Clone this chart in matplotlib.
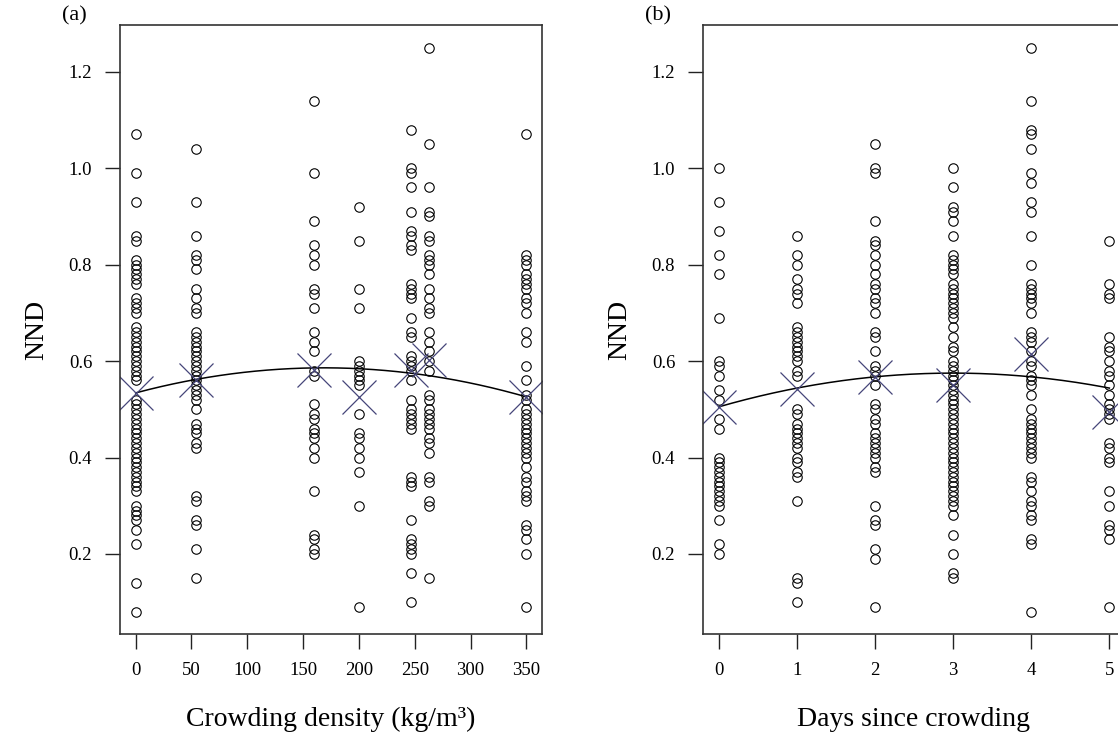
import numpy as np
import matplotlib
matplotlib.use("Agg")
import matplotlib.pyplot as plt

plt.rcParams['font.family'] = ['Liberation Serif', 'DejaVu Serif']

# ---- (a) NND by crowding density ----
density_levels = [0, 54, 160, 200, 247, 263, 350]
nnd_density = {
    0: [1.07, 0.99, 0.93, 0.86, 0.85, 0.81, 0.80, 0.79, 0.78, 0.77, 0.76, 0.73,
        0.72, 0.71, 0.70, 0.67, 0.66, 0.65, 0.64, 0.63, 0.62, 0.61, 0.60, 0.59,
        0.58, 0.57, 0.56, 0.52, 0.51, 0.50, 0.49, 0.48, 0.47, 0.46, 0.45, 0.44,
        0.43, 0.42, 0.41, 0.40, 0.39, 0.38, 0.37, 0.36, 0.35, 0.34, 0.33, 0.30,
        0.29, 0.28, 0.27, 0.25, 0.22, 0.14, 0.08],
    54: [1.04, 0.93, 0.86, 0.82, 0.81, 0.79, 0.75, 0.73, 0.71, 0.70, 0.66, 0.65,
         0.64, 0.63, 0.62, 0.61, 0.60, 0.59, 0.58, 0.57, 0.56, 0.55, 0.54, 0.53,
         0.52, 0.50, 0.47, 0.46, 0.45, 0.43, 0.42, 0.32, 0.31, 0.27, 0.26, 0.21,
         0.15],
    160: [1.14, 0.99, 0.89, 0.84, 0.82, 0.80, 0.75, 0.74, 0.71, 0.66, 0.64, 0.62,
          0.58, 0.57, 0.51, 0.49, 0.48, 0.46, 0.45, 0.44, 0.42, 0.40, 0.33, 0.24,
          0.23, 0.21, 0.20],
    200: [0.92, 0.85, 0.75, 0.71, 0.60, 0.59, 0.58, 0.57, 0.56, 0.55, 0.49, 0.45,
          0.44, 0.42, 0.40, 0.37, 0.30, 0.09],
    247: [1.08, 1.00, 0.99, 0.96, 0.91, 0.87, 0.86, 0.84, 0.83, 0.76, 0.75, 0.74,
          0.73, 0.69, 0.66, 0.65, 0.61, 0.60, 0.59, 0.58, 0.56, 0.52, 0.50, 0.49,
          0.48, 0.47, 0.46, 0.36, 0.35, 0.34, 0.27, 0.23, 0.22, 0.21, 0.20, 0.16,
          0.10],
    263: [1.25, 1.05, 0.96, 0.91, 0.90, 0.86, 0.85, 0.82, 0.81, 0.80, 0.78, 0.75,
          0.73, 0.71, 0.70, 0.66, 0.64, 0.62, 0.60, 0.58, 0.53, 0.52, 0.50, 0.49,
          0.48, 0.47, 0.46, 0.44, 0.43, 0.41, 0.36, 0.35, 0.31, 0.30, 0.15],
    350: [1.07, 0.82, 0.81, 0.80, 0.78, 0.77, 0.76, 0.75, 0.73, 0.72, 0.70, 0.66,
          0.64, 0.59, 0.56, 0.53, 0.52, 0.50, 0.49, 0.48, 0.47, 0.46, 0.45, 0.44,
          0.43, 0.42, 0.41, 0.40, 0.38, 0.36, 0.35, 0.33, 0.32, 0.31, 0.26, 0.25,
          0.23, 0.20, 0.09],
}
mean_density = [0.534, 0.561, 0.582, 0.526, 0.582, 0.602, 0.526]
fit_density = [0.534, 6.17e-4, -1.83e-6]   # intercept, linear, quadratic

# ---- (b) NND by days since crowding ----
day_levels = [0, 1, 2, 3, 4, 5]
nnd_days = {
    0: [1.00, 0.93, 0.87, 0.82, 0.78, 0.69, 0.60, 0.59, 0.57, 0.54, 0.52, 0.48,
        0.46, 0.40, 0.39, 0.38, 0.37, 0.36, 0.35, 0.34, 0.33, 0.32, 0.31, 0.30,
        0.27, 0.22, 0.20],
    1: [0.86, 0.82, 0.80, 0.77, 0.75, 0.74, 0.72, 0.67, 0.66, 0.65, 0.64, 0.63,
        0.62, 0.61, 0.60, 0.58, 0.57, 0.50, 0.49, 0.47, 0.46, 0.45, 0.44, 0.43,
        0.42, 0.40, 0.39, 0.37, 0.36, 0.31, 0.15, 0.14, 0.10],
    2: [1.05, 1.00, 0.99, 0.89, 0.85, 0.84, 0.82, 0.80, 0.78, 0.76, 0.75, 0.73,
        0.72, 0.70, 0.66, 0.65, 0.62, 0.59, 0.58, 0.57, 0.55, 0.51, 0.50, 0.48,
        0.47, 0.45, 0.44, 0.43, 0.42, 0.41, 0.40, 0.38, 0.37, 0.30, 0.27, 0.26,
        0.21, 0.19, 0.09],
    3: [1.00, 0.96, 0.92, 0.91, 0.89, 0.86, 0.82, 0.81, 0.80, 0.79, 0.78, 0.76,
        0.75, 0.74, 0.73, 0.72, 0.71, 0.70, 0.69, 0.67, 0.65, 0.63, 0.62, 0.60,
        0.59, 0.58, 0.57, 0.56, 0.55, 0.54, 0.53, 0.52, 0.51, 0.50, 0.49, 0.48,
        0.47, 0.46, 0.45, 0.44, 0.43, 0.42, 0.41, 0.40, 0.39, 0.38, 0.37, 0.36,
        0.35, 0.34, 0.33, 0.32, 0.31, 0.30, 0.28, 0.24, 0.20, 0.16, 0.15],
    4: [1.25, 1.14, 1.08, 1.07, 1.04, 0.99, 0.97, 0.93, 0.91, 0.86, 0.80, 0.76,
        0.75, 0.74, 0.73, 0.72, 0.70, 0.66, 0.65, 0.64, 0.62, 0.60, 0.59, 0.57,
        0.56, 0.55, 0.53, 0.50, 0.48, 0.47, 0.46, 0.45, 0.44, 0.43, 0.42, 0.41,
        0.40, 0.36, 0.35, 0.33, 0.31, 0.30, 0.28, 0.27, 0.23, 0.22, 0.08],
    5: [0.85, 0.76, 0.74, 0.73, 0.65, 0.63, 0.62, 0.60, 0.58, 0.57, 0.55, 0.53,
        0.51, 0.50, 0.49, 0.48, 0.43, 0.42, 0.40, 0.39, 0.33, 0.30, 0.26, 0.25,
        0.23, 0.09],
}
mean_days = [0.505, 0.542, 0.566, 0.550, 0.615, 0.495]
fit_days = [0.505, 0.0467, -0.00778]

mean_color = '#45457a'


def panel(ax, levels, groups, means, coefs, xlim, xticks, xlabel):
    for lv in levels:
        ys = groups[lv]
        ax.plot([lv] * len(ys), ys, 'o', mfc='none', mec='black', ms=6.8, mew=0.8)
    xs = np.linspace(levels[0], levels[-1], 200)
    ax.plot(xs, coefs[0] + coefs[1] * xs + coefs[2] * xs ** 2, color='black', lw=1.1)
    ax.plot(levels, means, 'x', color=mean_color, ms=24, mew=0.9)

    ax.set_xlim(*xlim)
    ax.set_ylim(0.034, 1.297)
    ax.set_xticks(xticks)
    ax.set_yticks([0.2, 0.4, 0.6, 0.8, 1.0, 1.2])
    ax.set_yticklabels(['0.2', '0.4', '0.6', '0.8', '1.0', '1.2'])
    ax.tick_params(direction='out', length=11, width=1.0, labelsize=13.5,
                   color='#222222', pad=9)
    for sp in ax.spines.values():
        sp.set_linewidth(1.2)
        sp.set_color('#333333')
    ax.set_xlabel(xlabel, fontsize=20, labelpad=20)
    ax.set_ylabel('NND', fontsize=20, labelpad=14)
    return ax


fig = plt.figure(figsize=(11.18, 7.45), dpi=100)
ax_a = fig.add_axes([120 / 1118, 111 / 745, 422 / 1118, 609 / 745])
ax_b = fig.add_axes([703 / 1118, 111 / 745, 422 / 1118, 609 / 745])

panel(ax_a, density_levels, nnd_density, mean_density, fit_density,
      (-14, 364), range(0, 351, 50), 'Crowding density (kg/m³)')
panel(ax_b, day_levels, nnd_days, mean_days, fit_days,
      (-0.2, 5.2), range(0, 6), 'Days since crowding')

fig.text(62 / 1118, 1 - 16 / 745, '(a)', fontsize=16, va='center', ha='left')
fig.text(645 / 1118, 1 - 16 / 745, '(b)', fontsize=16, va='center', ha='left')

fig.savefig('out.png', dpi=100)
